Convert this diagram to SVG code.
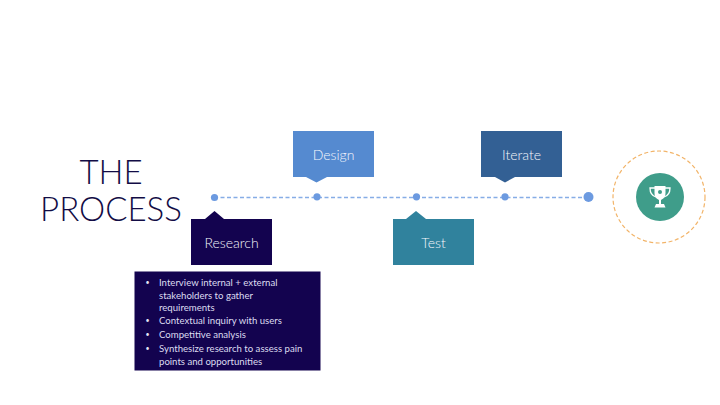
<svg xmlns="http://www.w3.org/2000/svg" width="720" height="405" viewBox="0 0 720 405">
<style>
text{font-family:"Lato","Open Sans","Liberation Sans",sans-serif}
.title{font-size:33px;fill:#120c45;text-anchor:middle;font-weight:300}
.lbl{font-size:14px;fill:#f4f6fc;text-anchor:middle;font-weight:300}
.body{font-size:9.600px;fill:#dcdcf0;font-weight:400}
.bul{font-size:7px;fill:#e6e5f4}
.dot{fill:#6c9ae0}
</style>
<rect width="720" height="405" fill="#fff"/>
<g id="title"><text class="title" x="111" y="183.500">THE</text><text class="title" x="111" y="221">PROCESS</text></g>
<g id="connectors"><line x1="214" y1="197.500" x2="588" y2="197.500" stroke="#86ade6" stroke-width="1.300" stroke-dasharray="4 2.500"/></g>
<g id="dots">
<circle class="dot" cx="214.500" cy="197.500" r="3.600"/><circle class="dot" cx="317" cy="196.800" r="3.600"/><circle class="dot" cx="416.500" cy="196.800" r="3.600"/><circle class="dot" cx="505" cy="196.800" r="3.600"/><circle class="dot" cx="588.500" cy="197" r="5"/>
</g>
<g id="research"><path d="M191 219H205L214.500 211L224 219H272V265H191Z" fill="#13034f"/><text class="lbl" x="231.500" y="248">Research</text></g>
<g id="design"><path d="M293 131H374V177H327L316.500 182.500L306 177H293Z" fill="#558ad0"/><text class="lbl" x="333.500" y="160">Design</text></g>
<g id="test"><path d="M393 219H406L416 211L426 219H474V265H393Z" fill="#30829d"/><text class="lbl" x="433.500" y="248">Test</text></g>
<g id="iterate"><path d="M481 131H562V177H515L505 182.500L495 177H481Z" fill="#336094"/><text class="lbl" x="521.500" y="160">Iterate</text></g>
<g id="details"><rect x="134.500" y="271.500" width="186" height="99" fill="#13034f"/>
<text class="bul" x="145.500" y="285">•</text><text class="body" x="159" y="286">Interview internal + external</text>
<text class="body" x="159" y="298.500">stakeholders to gather</text>
<text class="body" x="159" y="311">requirements</text>
<text class="bul" x="145.500" y="323">•</text><text class="body" x="159" y="324">Contextual inquiry with users</text>
<text class="bul" x="145.500" y="337">•</text><text class="body" x="159" y="338">Competitive analysis</text>
<text class="bul" x="145.500" y="351">•</text><text class="body" x="159" y="352">Synthesize research to assess pain</text>
<text class="body" x="159" y="365">points and opportunities</text>
</g>
<g id="goal"><circle cx="659" cy="197" r="46" fill="none" stroke="#f2b469" stroke-width="1.200" stroke-dasharray="4 2.500"/>
<circle cx="660" cy="197" r="24" fill="#3f9d8a"/>
<path d="M654.500 186H665.500V193C665.500 197 663 199 661 200V204H664L665.500 207.500H654.500L656 204H659V200C657 199 654.500 197 654.500 193Z" fill="#fff"/>
<path d="M655 188H650C650 193 652.500 196 656 197M665 188H670C670 193 667.500 196 664 197" fill="none" stroke="#fff" stroke-width="1.300"/>
<circle cx="660" cy="192" r="2" fill="#3f9d8a"/></g>
</svg>
